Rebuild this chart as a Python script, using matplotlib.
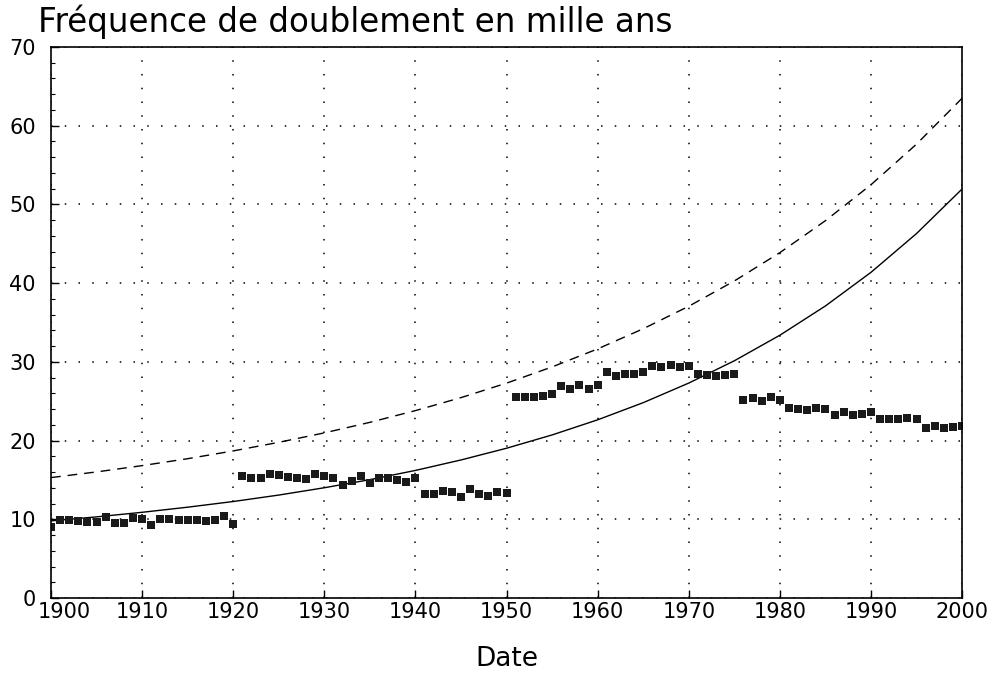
import matplotlib
matplotlib.use("Agg")
import matplotlib.pyplot as plt
from matplotlib.ticker import MultipleLocator
from matplotlib.transforms import ScaledTranslation

# Observed data (one point per year)
years = list(range(1900, 2001))
values = [
    9.0, 9.9, 9.9, 9.8, 9.7, 9.7, 10.3, 9.5, 9.5, 10.2,
    10.0, 9.3, 10.0, 10.0, 9.9, 9.9, 9.9, 9.8, 9.9, 10.4,
    9.4, 15.5, 15.3, 15.2, 15.8, 15.6, 15.4, 15.3, 15.1, 15.7,
    15.5, 15.3, 14.4, 14.9, 15.5, 14.65, 15.3, 15.2, 15.0, 14.7,
    15.3, 13.2, 13.2, 13.6, 13.5, 12.8, 13.85, 13.2, 13.0, 13.5,
    13.3, 25.5, 25.55, 25.6, 25.7, 25.9, 26.9, 26.5, 27.0, 26.5,
    27.0, 28.75, 28.2, 28.5, 28.45, 28.7, 29.45, 29.3, 29.55, 29.3,
    29.5, 28.5, 28.3, 28.2, 28.35, 28.5, 25.2, 25.4, 25.0, 25.6,
    25.2, 24.15, 24.0, 23.9, 24.2, 24.05, 23.3, 23.6, 23.2, 23.4,
    23.6, 22.8, 22.8, 22.7, 22.9, 22.8, 21.6, 21.9, 21.6, 21.7,
    21.9,
]

# Reference curves read every 5 years
curve_years = list(range(1900, 2001, 5))
solid_curve = [9.80, 10.31, 10.89, 11.54, 12.26, 13.08, 14.01, 15.04, 16.21, 17.54,
               19.03, 20.72, 22.64, 24.82, 27.31, 30.14, 33.39, 37.11, 41.38, 46.31, 51.97]
dashed_curve = [15.30, 16.02, 16.82, 17.70, 18.69, 19.78, 20.98, 22.32, 23.81, 25.46,
                27.30, 29.36, 31.65, 34.21, 37.07, 40.28, 43.88, 47.94, 52.51, 57.67, 63.5]

x_ticks = list(range(1900, 2001, 10))
y_ticks = list(range(0, 71, 10))

title = "Fréquence de doublement en mille ans"
xlabel = "Date"

plt.rcParams['font.family'] = ['DejaVu Sans']

fig = plt.figure(figsize=(9.95, 6.84), dpi=100)
ax = fig.add_axes([0.0513, 0.1257, 0.9157, 0.8056])

ax.plot(curve_years, solid_curve, color='black', lw=1.0, solid_capstyle='butt')
ax.plot(curve_years, dashed_curve, color='black', lw=1.0, linestyle=(0, (7, 5)))
ax.plot(years, values, linestyle='none', marker='s', markersize=6,
        color='#1a1a1a', markeredgewidth=0)

ax.set_xlim(1900, 2000)
ax.set_ylim(0, 70)
ax.set_xticks(x_ticks)
ax.set_yticks(y_ticks)
ax.yaxis.set_minor_locator(MultipleLocator(2))
ax.grid(True, which='major', color='black', linestyle=(0, (1, 8)), lw=1.1)
ax.tick_params(axis='both', which='major', direction='in', length=6, width=1,
               labelsize=15, colors='black')
ax.tick_params(axis='x', which='major', pad=3)
ax.tick_params(axis='y', which='major', pad=11)
ax.tick_params(axis='y', which='minor', direction='in', length=3, width=0.8)
for s in ax.spines.values():
    s.set_linewidth(1.2)
    s.set_color('black')

# nudge first x label right so it clears the "0" label (as in the reference)
first = ax.get_xticklabels()[0]
first.set_transform(first.get_transform() + ScaledTranslation(13 / 100, 0, fig.dpi_scale_trans))

ax.set_xlabel(xlabel, fontsize=19, labelpad=17)
fig.text(0.038, 0.953, title, fontsize=23.5, ha='left', va='baseline')

fig.savefig("out.png", dpi=100)
